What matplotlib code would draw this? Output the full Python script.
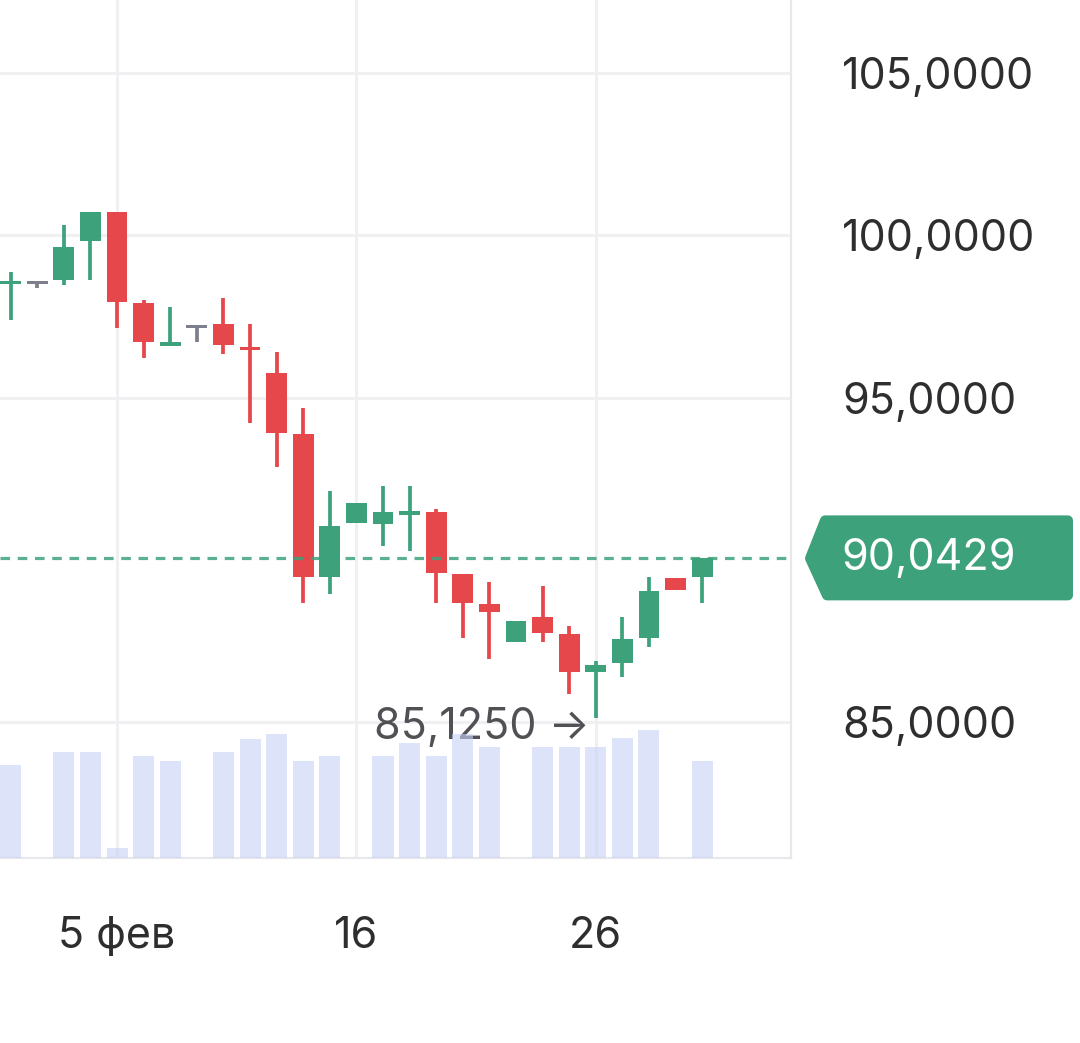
import numpy as np
import matplotlib
matplotlib.use("Agg")
import matplotlib.pyplot as plt
from matplotlib.patches import Polygon

plt.rcParams['font.family'] = ['Inter', 'DejaVu Sans']

# daily candles (index = trading day)
opens  = [98.54, 98.54, 98.62, 99.82, 100.73, 97.92, 96.63, 97.20, 97.26, 96.55,
          95.76, 93.87, 89.48, 91.12, 91.10, 91.42, 91.46, 89.56, 88.64, 87.46,
          88.25, 87.70, 86.53, 86.81, 87.60, 89.45, 89.48]
closes = [98.57, 98.54, 99.65, 100.73, 97.95, 96.72, 96.67, 97.20, 96.62, 96.49,
          93.92, 89.48, 91.05, 91.74, 91.46, 91.46, 89.60, 88.68, 88.40, 88.11,
          87.73, 86.53, 86.76, 87.56, 89.04, 89.07, 90.0429]
highs  = [98.88, 98.55, 100.32, 100.73, 100.73, 98.02, 97.78, 97.20, 98.06, 97.26,
          96.41, 94.69, 92.13, 91.74, 92.27, 92.27, 91.56, 89.56, 89.31, 88.11,
          89.19, 87.96, 86.88, 88.25, 89.46, 89.45, 90.0429]
lows   = [97.39, 98.37, 98.47, 98.62, 97.14, 96.21, 96.63, 96.72, 96.34, 94.20,
          92.85, 88.66, 88.94, 91.12, 90.42, 90.28, 88.66, 87.60, 86.94, 87.46,
          87.46, 85.85, 85.125, 86.38, 87.32, 89.07, 88.66]
volumes = [9.3, 0, 10.6, 10.6, 1.0, 10.2, 9.7, 0, 10.6, 11.9,
           12.4, 9.7, 10.2, 0, 10.2, 11.5, 10.2, 12.4, 11.1, 0,
           11.1, 11.1, 11.1, 12.0, 12.8, 0, 9.7]

tick_pos = [4, 13, 22]
tick_labels = ['5 фев', '16', '26']
price_ticks = [85, 95, 100, 105]
last_price = 90.0429
min_price = 85.125

GREEN = '#3da27b'
RED = '#e5474a'
GREY = '#7d808c'
GRIDC = '#f0f0f3'
TEXTC = '#2e2e30'
FS = 31

W, H = 1080, 1043
fig = plt.figure(figsize=(W / 100, H / 100), dpi=100)
ax = fig.add_axes([0, (H - 858) / H, 791 / W, 858 / H])
ax.set_xlim(-0.4, 29.34)
ax.set_ylim(80.81, 107.25)

# grid
for p in [85, 95, 100, 105]:
    ax.axhline(p, color=GRIDC, lw=2.2, zorder=0)
for t in tick_pos:
    ax.axvline(t, color=GRIDC, lw=2.2, zorder=0)

x = np.arange(len(opens))
for i in x:
    o, c, h, l = opens[i], closes[i], highs[i], lows[i]
    col = GREEN if c > o else (RED if c < o else GREY)
    if h > l:
        ax.vlines(i, l, h, color=col, lw=2.7, zorder=2)
    body = max(abs(c - o), 0.1)
    bottom = min(o, c) if abs(c - o) >= 0.1 else (o + c) / 2 - 0.05
    ax.bar(i, body, bottom=bottom, width=0.78, color=col, zorder=3)

# current price line
ax.axhline(last_price, color=GREEN, lw=2.3, ls=(0, (3, 2.4)), alpha=0.85, zorder=4)

ax.annotate(f'{min_price:.4f}'.replace('.', ',') + ' →', xy=(22, min_price),
            xytext=(-4, -7), textcoords='offset points', ha='right', va='center',
            fontsize=FS, color='#505055', zorder=1)

# volume
ax2 = ax.twinx()
ax2.set_ylim(0, 85.8)
ax2.bar(x, volumes, width=0.79, color='#c8d2f6', alpha=0.62, zorder=1)
ax2.axis('off')

# axes styling (after twinx, which moves ticks to the left)
for s in ['top', 'left']:
    ax.spines[s].set_visible(False)
for s in ['right', 'bottom']:
    ax.spines[s].set_color('#e8e8ec')
    ax.spines[s].set_linewidth(1.6)
ax.yaxis.tick_right()
ax.yaxis.set_label_position('right')
ax.set_yticks(price_ticks)
ax.set_yticklabels([f'{p:.4f}'.replace('.', ',') for p in price_ticks])
ax.set_xticks(tick_pos)
ax.set_xticklabels(tick_labels)
ax.tick_params(axis='y', length=0, pad=37, labelsize=FS, labelcolor=TEXTC,
               left=False, labelleft=False, right=False, labelright=True)
ax.tick_params(axis='x', length=0, pad=42, labelsize=FS, labelcolor=TEXTC)

# price tag
fig.canvas.draw()
yp = ax.transData.transform((0, last_price))[1]
r = 5
pts = [(805 + r, yp), (820 + r, yp + 43 - r), (1073 - r, yp + 43 - r),
       (1073 - r, yp - 42 + r), (822 + r, yp - 42 + r)]
tag = Polygon(pts, closed=True, transform=None, facecolor=GREEN, edgecolor=GREEN,
              lw=2 * r * 72 / 100, joinstyle='round')
fig.patches.append(tag)
fig.text(929 / W, yp / H, f'{last_price:.4f}'.replace('.', ','), color='white',
         fontsize=FS, ha='center', va='center')

fig.savefig('out.png', dpi=100)
